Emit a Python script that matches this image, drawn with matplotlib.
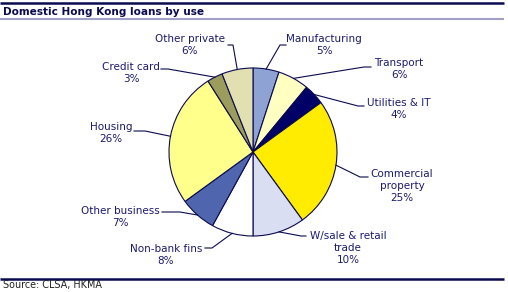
import numpy as np
import matplotlib
matplotlib.use("Agg")
import matplotlib.pyplot as plt

# data (clockwise from 12 o'clock)
labels = ["Manufacturing", "Transport", "Utilities & IT", "Commercial\nproperty",
          "W/sale & retail\ntrade", "Non-bank fins", "Other business", "Housing",
          "Credit card", "Other private"]
shares = [5, 6, 4, 25, 10, 8, 7, 26, 3, 6]
colors = ["#8EA3D3", "#FFFFC2", "#000066", "#FFEC00", "#D9DEF2",
          "#FFFFFF", "#4F66AE", "#FFFF8C", "#9C9C5C", "#E2E0B0"]

W, H = 508, 292
navy = "#0A0A50"
txt = "#1A1A6E"

fig = plt.figure(figsize=(W / 100, H / 100), dpi=100)
ax = fig.add_axes([0, 0, 1, 1])

def Y(y):
    # image row -> data y
    return H - y

cx, cy, r = 253, Y(152), 84
ax.pie(shares, colors=colors, startangle=90, counterclock=False,
       center=(cx, cy), radius=r, frame=True,
       wedgeprops=dict(edgecolor=navy, linewidth=0.8))
ax.set_xlim(0, W)
ax.set_ylim(0, H)
ax.set_aspect("equal")
ax.axis("off")

# label text centre (x, first line y) and leader anchor / elbow, image coords
text_pos = [(324, 38), (399, 63), (399, 102), (402, 173), (348, 235),
            (166, 248), (120, 210), (111, 127), (131, 67), (190, 38)]
anchors = [(286, 45), (371, 67), (364, 106), (368, 177), (306, 236),
           (205, 248), (162, 212), (134, 131), (161, 69), (228, 45)]
elbows = [(280, 45), (364, 67), (358, 106), (360, 177), (301, 236),
          (212, 248), (180, 212), (145, 131), (168, 69), (233, 45)]

cum = np.cumsum([0] + shares)
line_h = 13
for i, lab in enumerate(labels):
    mid = (cum[i] + cum[i + 1]) / 2
    th = np.deg2rad(90 - 360 * mid / sum(shares))
    ex, ey = cx + r * np.cos(th), cy + r * np.sin(th)
    (axx, axy), (elx, ely) = anchors[i], elbows[i]
    ax.plot([axx, elx, ex], [Y(axy), Y(ely), ey], color=navy, lw=0.8,
            solid_joinstyle="miter", zorder=1)
    text = f"{lab}\n{shares[i]}%"
    n = text.count("\n") + 1
    tx, ty = text_pos[i]
    ax.text(tx, Y(ty + (n - 1) * line_h / 2), text, ha="center", va="center",
            fontsize=7.5, color=txt, linespacing=1.25, multialignment="center")

# header / footer rules
ax.plot([0, 504], [Y(2.5), Y(2.5)], color=navy, lw=1.8, solid_capstyle="butt")
ax.plot([0, 504], [Y(19), Y(19)], color="#A0A0C8", lw=1.5, solid_capstyle="butt")
ax.plot([0, 504], [Y(278.5), Y(278.5)], color=navy, lw=1.8, solid_capstyle="butt")

ax.text(3, Y(12), "Domestic Hong Kong loans by use", fontsize=7.6,
        fontweight="bold", color=navy, ha="left", va="center")
ax.text(3, Y(285), "Source: CLSA, HKMA", fontsize=6.9, color="#222222",
        ha="left", va="center")

fig.savefig("out.png", dpi=100)
